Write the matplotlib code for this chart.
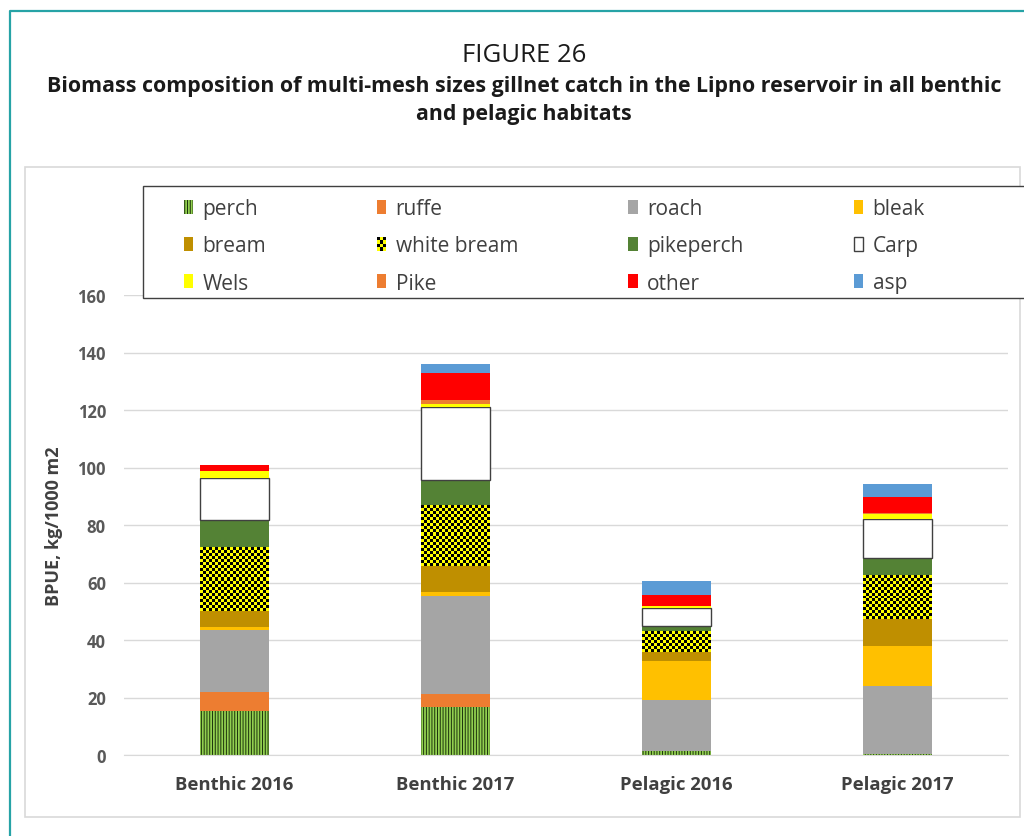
import numpy as np
import matplotlib

matplotlib.use("Agg")
import matplotlib.pyplot as plt
from matplotlib.colors import ListedColormap
from matplotlib.legend_handler import HandlerBase
from matplotlib.lines import Line2D
from matplotlib.patches import Rectangle

# --- data (BPUE, kg/1000 m2) ---
categories = ["Benthic 2016", "Benthic 2017", "Pelagic 2016", "Pelagic 2017"]
perch = [15.3, 16.7, 1.4, 0.5]
ruffe = [6.6, 4.5, 0.0, 0.0]
roach = [21.6, 34.1, 17.7, 23.4]
bleak = [1.0, 1.4, 13.6, 14.1]
bream = [5.6, 9.0, 3.1, 9.4]
white_bream = [22.2, 20.9, 7.0, 15.2]
pikeperch = [9.4, 9.1, 2.2, 5.8]
carp = [14.6, 25.3, 6.0, 13.7]
wels = [2.5, 1.1, 1.0, 1.7]
pike = [0.0, 1.4, 0.0, 0.3]
other = [2.1, 9.4, 3.7, 5.6]
asp = [0.0, 3.1, 4.8, 4.6]

species = ["perch", "ruffe", "roach", "bleak", "bream", "white bream",
           "pikeperch", "Carp", "Wels", "Pike", "other", "asp"]
series = [perch, ruffe, roach, bleak, bream, white_bream,
          pikeperch, carp, wels, pike, other, asp]
yticks = [0, 20, 40, 60, 80, 100, 120, 140, 160]

YELLOW = "#ffff00"
styles = {
    "perch": dict(facecolor="#92d050", edgecolor="#1c330c", linewidth=0, hatch="||||||"),
    "ruffe": dict(facecolor="#ed7d31", edgecolor="none"),
    "roach": dict(facecolor="#a5a5a5", edgecolor="none"),
    "bleak": dict(facecolor="#ffc000", edgecolor="none"),
    "bream": dict(facecolor="#bf8f00", edgecolor="none"),
    "white bream": dict(facecolor=YELLOW, edgecolor="none"),
    "pikeperch": dict(facecolor="#548235", edgecolor="none"),
    "Carp": dict(facecolor="white", edgecolor="#404040", linewidth=1.0),
    "Wels": dict(facecolor=YELLOW, edgecolor="none"),
    "Pike": dict(facecolor="#ed7d31", edgecolor="none"),
    "other": dict(facecolor="#ff0000", edgecolor="none"),
    "asp": dict(facecolor="#5b9bd5", edgecolor="none"),
}

plt.rcParams["font.family"] = ["Open Sans", "DejaVu Sans"]
plt.rcParams["hatch.linewidth"] = 0.7

W, H = 1024, 837
fig = plt.figure(figsize=(W / 100, H / 100), dpi=100)


def fx(px):
    return px / W


def fy(py):
    return 1 - py / H


# page frame (teal) and chart box (light grey)
fig.add_artist(Line2D([fx(10), fx(10), fx(1024)], [0, fy(12), fy(12)], color="#26a3a6", lw=1.6))
fig.add_artist(Rectangle((fx(25), fy(818)), fx(1020) - fx(25), fy(168) - fy(818),
                         facecolor="none", edgecolor="#d9d9d9", lw=1.2))

fig.text(fx(524), fy(62), "FIGURE 26", ha="center", va="baseline", fontsize=18.5, color="#1a1a1a")
fig.text(fx(524), fy(92), "Biomass composition of multi-mesh sizes gillnet catch in the Lipno reservoir in all benthic",
         ha="center", va="baseline", fontsize=15.4, fontweight="bold", color="#1a1a1a")
fig.text(fx(524), fy(120), "and pelagic habitats", ha="center", va="baseline",
         fontsize=15.4, fontweight="bold", color="#1a1a1a")

ax = fig.add_axes([fx(124), fy(756), fx(1008) - fx(124), fy(296) - fy(756)])
x = np.arange(len(categories))
width = 0.31

bottom = np.zeros(len(categories))
bars = {}
for name, vals in zip(species, series):
    vals = np.asarray(vals, dtype=float)
    bars[name] = ax.bar(x, vals, width, bottom=bottom, label=name, zorder=2, **styles[name])
    bottom += vals

ax.set_xlim(-0.5, len(categories) - 0.5)
ax.set_ylim(0, 160)
ax.set_yticks(yticks)
ax.set_xticks(x, categories)
ax.grid(axis="y", color="#d9d9d9", lw=1, zorder=0)
ax.set_axisbelow(True)
for s in ["top", "right", "left"]:
    ax.spines[s].set_visible(False)
ax.spines["bottom"].set_color("#d9d9d9")
ax.tick_params(axis="both", length=0)
ax.tick_params(axis="y", pad=13, labelsize=12, labelcolor="#595959")
ax.tick_params(axis="x", pad=14.5, labelsize=13.3, labelcolor="#404040")
for lab in ax.get_xticklabels() + ax.get_yticklabels():
    lab.set_fontweight("bold")
ax.set_ylabel("BPUE, kg/1000 m2", fontsize=13, fontweight="bold", color="#404040")
ax.yaxis.set_label_coords(-0.069, 0.5)

# checkerboard fill for white bream (about 3 px cells)
checker_cmap = ListedColormap([YELLOW, "black"])
fig.canvas.draw()
for rect in bars["white bream"]:
    x0, y0 = rect.get_x(), rect.get_y()
    x1, y1 = x0 + rect.get_width(), y0 + rect.get_height()
    (px0, py0), (px1, py1) = ax.transData.transform([(x0, y0), (x1, y1)])
    nx = max(1, int(round((px1 - px0) / 3)))
    ny = max(1, int(round((py1 - py0) / 3)))
    board = np.add.outer(np.arange(ny), np.arange(nx)) % 2
    ax.imshow(board, extent=(x0, x1, y0, y1), origin="lower", cmap=checker_cmap,
              interpolation="nearest", aspect="auto", zorder=2.5)
ax.set_xlim(-0.5, len(categories) - 0.5)
ax.set_ylim(0, 160)


class CheckerHandler(HandlerBase):
    def create_artists(self, legend, orig_handle, xdescent, ydescent, width, height, fontsize, trans):
        arts = [Rectangle((-xdescent, -ydescent), width, height, facecolor=YELLOW,
                          edgecolor="none", transform=trans)]
        nx, ny = 3, 4
        cw, ch = width / nx, height / ny
        for i in range(nx):
            for j in range(ny):
                if (i + j) % 2:
                    arts.append(Rectangle((-xdescent + i * cw, -ydescent + j * ch), cw, ch,
                                          facecolor="black", edgecolor="none", transform=trans))
        return arts


# legend box: frame runs off the right edge like in the original
fig.add_artist(Rectangle((fx(143), fy(299)), fx(1040) - fx(143), fy(187) - fy(299),
                         facecolor="white", edgecolor="#404040", lw=1.0, zorder=5))

# legend laid out row-wise like the original (matplotlib fills column-wise)
ncol = 4
order = [r * ncol + c for c in range(ncol) for r in range(3)]
handles = [bars[species[i]] for i in order]
labels = [species[i] for i in order]
leg = fig.legend(handles, labels, ncol=ncol, loc="upper left",
                 bbox_to_anchor=(fx(184), fy(199)),
                 fontsize=15, frameon=False, borderpad=0, borderaxespad=0,
                 handlelength=0.45, handleheight=0.65, handletextpad=0.45,
                 labelspacing=0.78, columnspacing=5.3,
                 handler_map={bars["white bream"]: CheckerHandler()})
leg.set_zorder(6)
for t in leg.get_texts():
    t.set_color("#404040")

fig.savefig("out.png", dpi=100)
